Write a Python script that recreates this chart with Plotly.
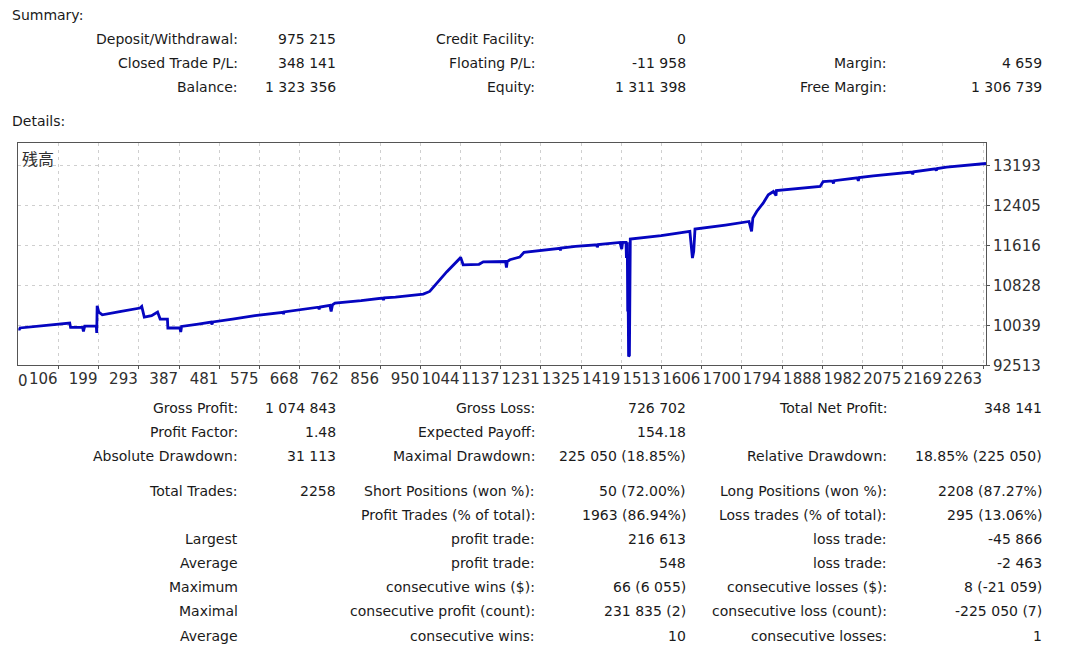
import plotly.graph_objects as go

# ---------------- data ----------------
trade_no = [0, 2, 4, 40, 80, 120, 122, 150, 152, 155, 182, 183, 184, 188, 191, 196, 240, 284, 288,
            294, 311, 325, 331, 348, 349, 377, 379, 381, 420, 450, 452, 454, 500, 552, 618, 619, 620,
            640, 700, 702, 704, 727, 730, 733, 739, 800, 850, 852, 854, 880, 945, 960, 984, 1000, 1031,
            1032, 1038, 1075, 1085, 1137, 1139, 1141, 1147, 1170, 1180, 1250, 1264, 1265, 1266, 1300,
            1350, 1351, 1353, 1404, 1408, 1410, 1418, 1419, 1420, 1421, 1422, 1423, 1424, 1426, 1428,
            1450, 1500, 1567, 1570, 1573, 1576, 1579, 1650, 1705, 1711, 1714, 1723, 1738, 1750, 1762,
            1768, 1769, 1871, 1878, 1900, 1902, 1904, 1958, 1960, 1962, 1995, 2073, 2085, 2087, 2089,
            2140, 2142, 2144, 2166, 2258]
balance = [998900, 995000, 999000, 1002000, 1005500, 1008700, 1000000, 1000000, 992200, 1002600,
           1002600, 989000, 1042800, 1030000, 1028400, 1025000, 1031500, 1038300, 1041400, 1020500,
           1023100, 1030400, 1016600, 1016600, 998900, 998900, 991000, 1002000, 1006500, 1010500,
           1006000, 1010800, 1016500, 1023500, 1030000, 1026000, 1030500, 1033000, 1040000, 1036000,
           1040300, 1043400, 1031600, 1044500, 1048100, 1053000, 1058000, 1054500, 1058300, 1060000,
           1065900, 1071000, 1095000, 1110000, 1136800, 1138800, 1123600, 1124500, 1129500, 1130000,
           1118300, 1130000, 1133500, 1138800, 1148000, 1155000, 1156000, 1152000, 1156500, 1160000,
           1163000, 1158000, 1163500, 1167600, 1154600, 1167600, 1167600, 1137000, 1168000, 1168000,
           1031600, 1060000, 942900, 945000, 1174300, 1176000, 1181000, 1189300, 1160000, 1136800,
           1150000, 1194000, 1202000, 1209000, 1189300, 1215700, 1228700, 1245200, 1261600, 1268100,
           1260200, 1270100, 1278000, 1287800, 1289000, 1284000, 1289500, 1295000, 1289000, 1295500,
           1299000, 1305500, 1306500, 1302000, 1306800, 1313000, 1309500, 1313300, 1316200, 1323356]
x_offset = 12  # axis numbering offset used by the tester graph
x_tick_vals = [106, 199, 293, 387, 481, 575, 668, 762, 856, 950, 1044, 1137, 1231, 1325, 1419,
               1513, 1606, 1700, 1794, 1888, 1982, 2075, 2169, 2263]
x_tick_text = [str(v) for v in x_tick_vals]
y_tick_vals = [925135, 1003980, 1082825, 1161670, 1240515, 1319360]
y_tick_text = ["92513", "10039", "10828", "11616", "12405", "13193"]

summary_labels_1 = ["Deposit/Withdrawal:", "Closed Trade P/L:", "Balance:"]
summary_values_1 = ["975 215", "348 141", "1 323 356"]
summary_labels_2 = ["Credit Facility:", "Floating P/L:", "Equity:"]
summary_values_2 = ["0", "-11 958", "1 311 398"]
summary_labels_3 = ["", "Margin:", "Free Margin:"]
summary_values_3 = ["", "4 659", "1 306 739"]

detail_labels_1 = ["Gross Profit:", "Profit Factor:", "Absolute Drawdown:", "Total Trades:", "",
                   "Largest", "Average", "Maximum", "Maximal", "Average"]
detail_values_1 = ["1 074 843", "1.48", "31 113", "2258", "", "", "", "", "", ""]
detail_labels_2 = ["Gross Loss:", "Expected Payoff:", "Maximal Drawdown:", "Short Positions (won %):",
                   "Profit Trades (% of total):", "profit trade:", "profit trade:",
                   "consecutive wins ($):", "consecutive profit (count):", "consecutive wins:"]
detail_values_2 = ["726 702", "154.18", "225 050 (18.85%)", "50 (72.00%)", "1963 (86.94%)",
                   "216 613", "548", "66 (6 055)", "231 835 (2)", "10"]
detail_labels_3 = ["Total Net Profit:", "", "Relative Drawdown:", "Long Positions (won %):",
                   "Loss trades (% of total):", "loss trade:", "loss trade:",
                   "consecutive losses ($):", "consecutive loss (count):", "consecutive losses:"]
detail_values_3 = ["348 141", "", "18.85% (225 050)", "2208 (87.27%)", "295 (13.06%)",
                   "-45 866", "-2 463", "8 (-21 059)", "-225 050 (7)", "1"]

# ---------------- layout constants ----------------
W, H = 1068, 646
H_EFF = 637.5  # effective vertical scale of the rendered page
PL, PR, PT, PB = 18.3, 986.0, 143.0, 365.7
TXT = dict(family="DejaVu Sans", size=14, color="#1a1a1a")
col_x = [240, 338, 537, 688, 889, 1044]
summary_y = [39, 63, 87]
detail_y = [408, 432, 456, 491, 515, 539, 563, 587, 611, 636]


def px(x):
    return x / W


def py(y):
    return 1 - y / H_EFF


fig = go.Figure()
fig.add_trace(go.Scatter(
    x=[t + x_offset for t in trade_no], y=balance, mode="lines",
    line=dict(color="#0505c0", width=2.8), hoverinfo="skip", showlegend=False))

ann = []


def add_text(x, y, text, anchor="right", font=TXT):
    if text:
        ann.append(dict(x=px(x), y=py(y), xref="paper", yref="paper", text=text,
                        showarrow=False, xanchor=anchor, yanchor="middle", font=font))


add_text(10, 15, "Summary:", "left")
add_text(10, 121, "Details:", "left")
for cols, ys in (((summary_labels_1, summary_values_1, summary_labels_2, summary_values_2,
                   summary_labels_3, summary_values_3), summary_y),
                 ((detail_labels_1, detail_values_1, detail_labels_2, detail_values_2,
                   detail_labels_3, detail_values_3), detail_y)):
    for ci, col in enumerate(cols):
        for ri, t in enumerate(col):
            add_text(col_x[ci], ys[ri], t)

add_text(20, 158, "残高", "left", dict(family="Noto Sans CJK JP", size=16, color="#303030"))
add_text(PL - 2, 381, "0", "left", dict(family="DejaVu Sans", size=15, color="#303030"))

fig.update_layout(
    width=W, height=H, autosize=False,
    margin=dict(l=0, r=0, t=0, b=0),
    paper_bgcolor="white", plot_bgcolor="white",
    annotations=ann,
    xaxis=dict(domain=[px(PL), px(PR)], range=[x_offset, x_offset + 2258],
               tickvals=x_tick_vals, ticktext=x_tick_text, ticklabelposition="outside left",
               tickangle=0, ticks="outside", ticklen=3, tickcolor="#555",
               showgrid=True, gridcolor="#cfcfcf", griddash="3px,4px", gridwidth=1,
               showline=True, linecolor="#555", linewidth=1, mirror=True, zeroline=False,
               tickfont=dict(family="DejaVu Sans", size=15, color="#303030")),
    yaxis=dict(domain=[py(PB), py(PT)], range=[925135, 1364000], side="right",
               tickvals=y_tick_vals, ticktext=y_tick_text,
               ticks="outside", ticklen=3, tickcolor="#555",
               showgrid=True, gridcolor="#cfcfcf", griddash="3px,4px", gridwidth=1,
               showline=True, linecolor="#555", linewidth=1, mirror=True, zeroline=False,
               tickfont=dict(family="DejaVu Sans", size=15, color="#303030")),
)

fig.write_html("out.html", config={"displayModeBar": False},
               post_script="document.body.style.margin='0px';document.body.style.overflow='hidden';")
